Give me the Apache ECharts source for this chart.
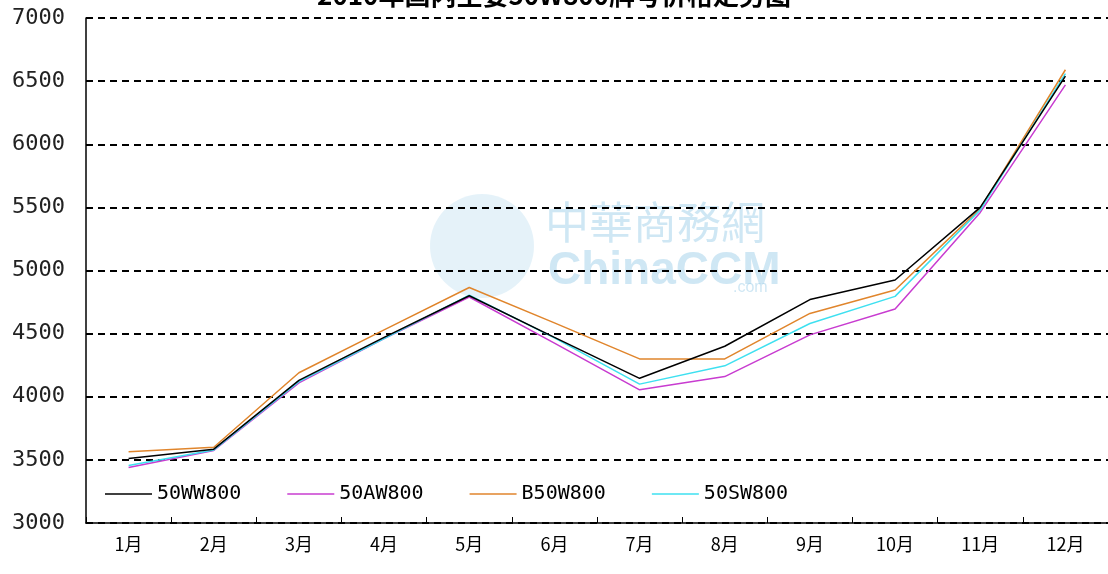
<!DOCTYPE html>
<html>
<head>
<meta charset="utf-8">
<script src="https://cdn.jsdelivr.net/npm/echarts@6/dist/echarts.min.js"></script>
<style>html,body{margin:0;padding:0;background:#fff;}#c{width:1108px;height:574px;}</style>
</head>
<body>
<div id="c"></div>
<script>
const title = '2010年国内主要50W800牌号价格走势图';
const months = ['1月','2月','3月','4月','5月','6月','7月','8月','9月','10月','11月','12月'];
const seriesNames = ['50WW800','50AW800','B50W800','50SW800'];
const s50WW800 = [3510, 3585, 4130, 4470, 4800, 4470, 4146, 4400, 4770, 4925, 5500, 6540];
const s50AW800 = [3440, 3575, 4110, 4460, 4790, 4425, 4055, 4160, 4490, 4695, 5460, 6470];
const sB50W800 = [3565, 3600, 4190, 4530, 4865, 4585, 4300, 4300, 4660, 4846, 5490, 6590];
const s50SW800 = [3455, 3578, 4120, 4460, 4805, 4466, 4100, 4245, 4580, 4795, 5480, 6560];
const colors = ['#000000', '#c83cd0', '#e0852c', '#3ee0f0'];
const dataSets = [s50WW800, s50AW800, sB50W800, s50SW800];

const chart = echarts.init(document.getElementById('c'), null, {renderer: 'canvas'});
chart.setOption({
  animation: false,
  backgroundColor: '#ffffff',
  title: {
    text: title, left: 'center', top: -23,
    textStyle: {fontFamily: 'Noto Sans CJK SC', fontSize: 26, fontWeight: 'bold', color: '#000'}
  },
  graphic: [
    {type: 'circle', shape: {cx: 482, cy: 246, r: 52}, style: {fill: '#a9d3ec', opacity: 0.3}, z: 0},
    {type: 'text', left: 545, top: 200, style: {text: '中華商務網', fill: '#9fd0ea', opacity: 0.5, font: '44px "Noto Sans CJK TC"'}, z: 0},
    {type: 'text', left: 548, top: 248, style: {text: 'ChinaCCM', fill: '#9fd0ea', opacity: 0.5, font: 'bold 46px "Liberation Sans Narrow", "Liberation Sans"'}, z: 0},
    {type: 'text', left: 733, top: 280, style: {text: '.com', fill: '#9fd0ea', opacity: 0.5, font: '16px "Liberation Sans"'}, z: 0}
  ],
  legend: {
    data: seriesNames,
    left: 100, top: 479,
    icon: 'rect',
    itemWidth: 47, itemHeight: 1.5, itemGap: 46,
    textStyle: {fontFamily: 'DejaVu Sans Mono', fontSize: 20, color: '#000', padding: [0, 0, 0, 0]},
    backgroundColor: 'transparent'
  },
  grid: {left: 86, right: 0, top: 18, bottom: 51, containLabel: false},
  xAxis: {
    type: 'category', data: months, boundaryGap: true,
    axisLine: {lineStyle: {color: '#000', width: 1.5}},
    axisTick: {show: true, inside: true, length: 6, lineStyle: {color: '#000'}},
    axisLabel: {color: '#000', fontFamily: 'Noto Sans CJK SC', fontSize: 18, margin: 12},
    splitLine: {show: false}
  },
  yAxis: {
    type: 'value', min: 3000, max: 7000, interval: 500,
    axisLine: {show: true, lineStyle: {color: '#000', width: 1.5}},
    axisTick: {show: false},
    axisLabel: {color: '#222', fontFamily: 'DejaVu Sans Mono', fontSize: 22, margin: 21, formatter: v => String(v)},
    splitLine: {show: true, lineStyle: {color: '#000', type: [7, 5], width: 2}}
  },
  series: seriesNames.map((n, i) => ({
    name: n, type: 'line', data: dataSets[i], symbol: 'none',
    lineStyle: {color: colors[i], width: 1.5}, itemStyle: {color: colors[i]}, z: 3 + (i === 0 ? 1 : 0)
  }))
});
</script>
</body>
</html>
